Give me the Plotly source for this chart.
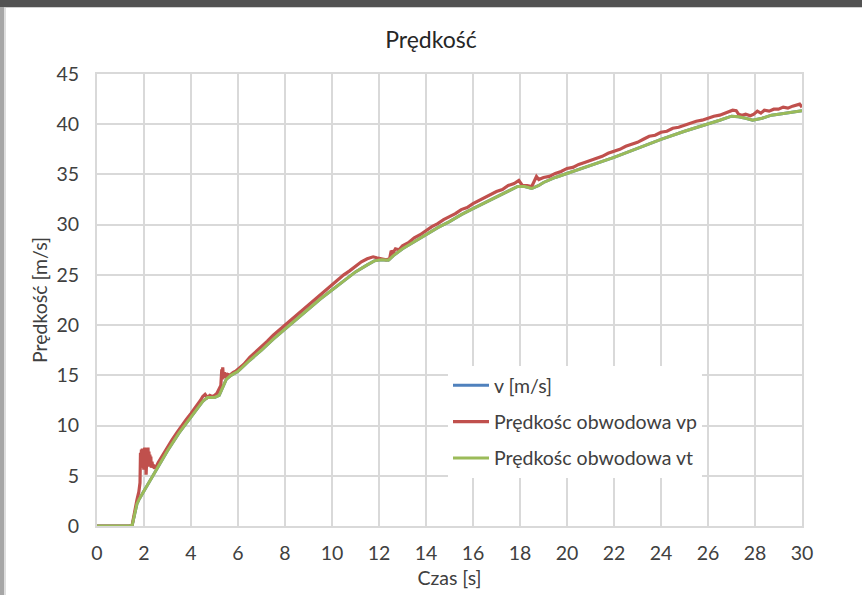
import plotly.graph_objects as go

# ---- data ----
t_vt = [0, 1.4, 1.5, 1.55, 1.62, 1.7, 1.8, 2.0, 2.3, 2.6, 3.0, 3.5, 4.0, 4.3, 4.5, 4.7, 5.0, 5.2,
        5.35, 5.5, 5.7, 6.0, 6.5, 7, 7.5, 8, 8.5, 9, 9.5, 10, 10.5, 11, 11.5, 11.8, 12.1, 12.4,
        12.6, 13, 13.5, 14, 14.5, 15, 15.5, 16, 16.5, 17, 17.5, 17.9, 18.2, 18.5, 18.8, 19, 19.5,
        20, 21, 22, 23, 24, 25, 26, 26.5, 27, 27.3, 27.6, 27.9, 28.3, 28.7, 29, 29.5, 30]
vt = [0, 0, 0.1, 0.6, 1.6, 2.2, 2.7, 3.5, 4.8, 6.0, 7.5, 9.3, 10.9, 11.8, 12.4, 12.8, 12.8, 13.0,
      13.8, 14.6, 15.0, 15.4, 16.5, 17.5, 18.6, 19.6, 20.6, 21.6, 22.6, 23.5, 24.4, 25.3, 26.0,
      26.4, 26.5, 26.45, 26.9, 27.6, 28.3, 29.0, 29.7, 30.3, 31.0, 31.6, 32.2, 32.8, 33.4, 33.8,
      33.8, 33.6, 33.9, 34.2, 34.7, 35.1, 35.9, 36.7, 37.6, 38.5, 39.3, 40.0, 40.4, 40.8, 40.75,
      40.6, 40.4, 40.6, 40.9, 41.0, 41.2, 41.35]

t_v = list(t_vt)
v = list(vt)

t_vp = [0, 1.4, 1.5, 1.55, 1.62, 1.7, 1.78, 1.83, 1.85, 1.87, 1.89, 1.91, 1.93, 1.95, 1.97, 1.99,
        2.01, 2.03, 2.05, 2.07, 2.09, 2.11, 2.13, 2.15, 2.17, 2.19, 2.21, 2.23, 2.25, 2.27, 2.29,
        2.31, 2.34, 2.37, 2.4, 2.44, 2.48, 2.52, 2.6,
        2.8, 3.0, 3.2, 3.4, 3.6, 3.8, 4.0, 4.2, 4.4, 4.5, 4.6, 4.7, 4.8, 4.9, 5.0, 5.1, 5.2, 5.27,
        5.31, 5.33, 5.35, 5.38, 5.42, 5.47, 5.55, 5.65, 5.8, 5.9, 6.0,
        6.25, 6.5, 6.75, 7.0, 7.25, 7.5, 7.75, 8.0, 8.25, 8.5, 8.75, 9.0, 9.25, 9.5, 9.75, 10.0,
        10.25, 10.5, 10.75, 11.0, 11.25, 11.5, 11.75, 11.9, 12.1, 12.3, 12.45, 12.52, 12.6, 12.7,
        12.85, 13.0, 13.25, 13.5, 13.75, 14.0, 14.25, 14.5, 14.75, 15.0, 15.25, 15.5, 15.75, 16.0,
        16.25, 16.5, 16.75, 17.0, 17.25, 17.5, 17.75, 17.95, 18.1, 18.3, 18.5, 18.6, 18.7, 18.8,
        19.0, 19.25, 19.5, 19.75, 20.0, 20.25, 20.5, 20.75, 21.0, 21.25, 21.5, 21.75, 22.0, 22.25,
        22.5, 22.75, 23.0, 23.25, 23.5, 23.75, 24.0, 24.25, 24.5, 24.75, 25.0, 25.25, 25.5, 25.75,
        26.0, 26.25, 26.5, 26.75, 26.9, 27.05, 27.2, 27.3, 27.45, 27.6, 27.8, 27.95, 28.1, 28.25,
        28.4, 28.6, 28.8, 29.0, 29.2, 29.4, 29.6, 29.8, 29.9, 30.0]
vp = [0, 0, 0.15, 0.8, 1.9, 2.6, 3.4, 4.3, 7.3, 5.8, 7.6, 6.4, 7.7, 6.9, 7.5, 5.6,
      7.2, 7.8, 6.5, 7.7, 5.1, 6.8, 7.6, 7.2, 7.8, 6.1, 7.4, 5.9, 7.1, 6.3, 6.9,
      5.8, 6.4, 5.9, 6.1, 5.7, 5.9, 5.9, 6.3,
      7.1, 7.8, 8.6, 9.3, 10.0, 10.6, 11.2, 11.8, 12.5, 12.9, 13.1, 12.8, 13.0, 12.9, 13.0, 13.2,
      13.6, 14.0, 15.6, 14.6, 15.8, 14.7, 15.3, 14.8, 15.1, 15.0, 15.3, 15.4, 15.6,
      16.1, 16.8, 17.3, 17.9, 18.4, 19.0, 19.5, 20.1, 20.5, 21.1, 21.5, 22.1, 22.5, 23.1, 23.6,
      24.1, 24.5, 25.0, 25.4, 25.9, 26.3, 26.6, 26.8, 26.7, 26.6, 26.5, 26.6, 27.4, 27.2, 27.6,
      27.5, 27.9, 28.2, 28.7, 29.0, 29.4, 29.8, 30.1, 30.5, 30.8, 31.1, 31.5, 31.7, 32.1, 32.4,
      32.7, 33.0, 33.3, 33.5, 33.9, 34.1, 34.4, 33.9, 33.9, 33.8, 34.3, 34.8, 34.5, 34.7, 34.8,
      35.1, 35.3, 35.6, 35.7, 36.0, 36.2, 36.4, 36.6, 36.8, 37.1, 37.3, 37.5, 37.8, 38.0, 38.2,
      38.5, 38.8, 38.9, 39.2, 39.3, 39.6, 39.7, 39.9, 40.1, 40.3, 40.4, 40.6, 40.8, 40.9, 41.1,
      41.2, 41.4, 41.35, 41.0, 40.9, 41.0, 40.85, 41.0, 41.3, 41.1, 41.4, 41.3, 41.5, 41.5, 41.7,
      41.6, 41.8, 41.9, 42.0, 41.7]

x_ticks = list(range(0, 31, 2))
y_ticks = list(range(0, 46, 5))

title_text = "Prędkość"
x_title = "Czas [s]"
y_title = "Prędkość [m/s]"
names = ["v [m/s]", "Prędkośc obwodowa vp", "Prędkośc obwodowa vt"]
colors = ["#4F81BD", "#C0504D", "#9BBB59"]

FONT = "Lato, 'Open Sans', sans-serif"
TXT = "#404040"
GRID = "#D9D9D9"

fig = go.Figure()
fig.add_trace(go.Scatter(x=t_v, y=v, mode="lines", name=names[0], legendgroup="a",
                         line=dict(color=colors[0], width=3)))
fig.add_trace(go.Scatter(x=t_vp, y=vp, mode="lines", name=names[1], legendgroup="b",
                         line=dict(color=colors[1], width=3.2)))
fig.add_trace(go.Scatter(x=t_vt, y=vt, mode="lines", name=names[2], legendgroup="c",
                         line=dict(color=colors[2], width=3)))

L, R, T, B = 97, 60, 74, 69
W, H = 862, 595
pw, ph = W - L - R, H - T - B


def px(x):
    return (x - L) / pw


def py(y):
    return (H - B - y) / ph


fig.update_layout(
    width=W, height=H,
    margin=dict(l=L, r=R, t=T, b=B, autoexpand=False),
    paper_bgcolor="white", plot_bgcolor="white",
    font=dict(family=FONT, size=19.5, color=TXT),
    title=dict(text=title_text, x=0.5, xanchor="center", y=1 - 40 / H, yanchor="middle",
               yref="container", font=dict(size=23, color="#262626")),
    xaxis=dict(range=[0, 30], tickvals=x_ticks, ticktext=[str(t) for t in x_ticks],
               showgrid=True, gridcolor=GRID, gridwidth=2, automargin=False,
               showline=True, linecolor=GRID, linewidth=2, mirror=True,
               zeroline=False, ticks="", ticklabelstandoff=9,
               title=dict(text=x_title, standoff=8, font=dict(size=19.5))),
    yaxis=dict(range=[0, 45], tickvals=y_ticks, ticktext=[str(t) for t in y_ticks],
               showgrid=True, gridcolor=GRID, gridwidth=2, automargin=False,
               showline=True, linecolor=GRID, linewidth=2, mirror=True,
               zeroline=False, ticks="", ticklabelstandoff=12,
               title=dict(text=y_title, standoff=4, font=dict(size=19.5))),
    legend=dict(x=px(448), y=py(366), xanchor="left", yanchor="top",
                bgcolor="white", borderwidth=0, tracegroupgap=8,
                font=dict(size=19.5, color=TXT), itemwidth=36),
    showlegend=True,
    shapes=[
        dict(type="rect", xref="paper", yref="paper", x0=px(-5), x1=px(W + 5), y0=py(7), y1=py(-5),
             fillcolor="#525252", line_width=0, layer="above"),
        dict(type="rect", xref="paper", yref="paper", x0=px(-5), x1=px(W + 5), y0=py(8), y1=py(7),
             fillcolor="#d0d0d0", line_width=0, layer="above"),
        dict(type="rect", xref="paper", yref="paper", x0=px(-5), x1=px(4), y0=py(H + 5), y1=py(7),
             fillcolor="#a6a6a6", line_width=0, layer="above"),
        dict(type="rect", xref="paper", yref="paper", x0=px(4), x1=px(6), y0=py(H + 5), y1=py(8),
             fillcolor="#dedede", line_width=0, layer="above"),
    ],
)

fig.write_html("out.html")
